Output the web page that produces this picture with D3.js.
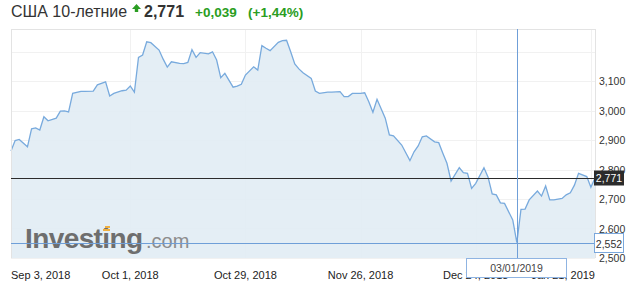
<!DOCTYPE html>
<html>
<head>
<meta charset="utf-8">
<script src="https://cdn.jsdelivr.net/npm/d3@7"></script>
<style>
  html, body { margin: 0; padding: 0; background: #fff; }
  svg { display: block; font-family: "Liberation Sans", Arial, sans-serif; }
</style>
</head>
<body>
<svg id="chart" width="629" height="288"></svg>
<script>
// ---- data ----
const dates = [
  "2018-09-02","2018-09-03","2018-09-04","2018-09-06","2018-09-07","2018-09-08","2018-09-09","2018-09-10",
  "2018-09-11","2018-09-13","2018-09-14","2018-09-15","2018-09-16","2018-09-17","2018-09-19","2018-09-20",
  "2018-09-22","2018-09-23","2018-09-25","2018-09-26","2018-09-27","2018-09-29","2018-09-30","2018-10-01",
  "2018-10-02","2018-10-03","2018-10-04","2018-10-05","2018-10-06","2018-10-08","2018-10-09","2018-10-10",
  "2018-10-11","2018-10-13","2018-10-14","2018-10-15","2018-10-16","2018-10-17","2018-10-18","2018-10-20",
  "2018-10-21","2018-10-22","2018-10-23","2018-10-24","2018-10-26","2018-10-27","2018-10-28","2018-10-29",
  "2018-10-31","2018-11-01","2018-11-02","2018-11-03","2018-11-04","2018-11-06","2018-11-07","2018-11-08",
  "2018-11-09","2018-11-10","2018-11-11","2018-11-12","2018-11-14","2018-11-15","2018-11-16","2018-11-18",
  "2018-11-19","2018-11-21","2018-11-22","2018-11-23","2018-11-24","2018-11-26","2018-11-27","2018-11-28",
  "2018-11-29","2018-11-30","2018-12-02","2018-12-03","2018-12-04","2018-12-06","2018-12-08","2018-12-09",
  "2018-12-10","2018-12-11","2018-12-12","2018-12-14","2018-12-15","2018-12-16","2018-12-17","2018-12-18",
  "2018-12-20","2018-12-21","2018-12-22","2018-12-23","2018-12-24","2018-12-26","2018-12-27","2018-12-28",
  "2018-12-29","2018-12-30","2018-12-31","2019-01-02","2019-01-03","2019-01-04","2019-01-05","2019-01-06",
  "2019-01-08","2019-01-09","2019-01-10","2019-01-11","2019-01-12","2019-01-14","2019-01-15","2019-01-16",
  "2019-01-17","2019-01-18","2019-01-20","2019-01-21","2019-01-22"
];
const values = [
  2.863,2.898,2.902,2.877,2.938,2.941,2.934,2.979,
  2.965,2.974,2.998,2.999,2.995,3.058,3.065,3.065,
  3.066,3.087,3.097,3.049,3.058,3.067,3.069,3.083,
  3.062,3.180,3.188,3.233,3.230,3.205,3.174,3.147,
  3.165,3.160,3.159,3.163,3.206,3.180,3.196,3.192,
  3.199,3.171,3.111,3.126,3.079,3.083,3.089,3.120,
  3.148,3.137,3.220,3.211,3.203,3.231,3.237,3.238,
  3.199,3.158,3.141,3.128,3.109,3.066,3.058,3.062,
  3.062,3.064,3.047,3.047,3.058,3.058,3.060,3.030,
  2.994,3.038,2.974,2.917,2.914,2.883,2.830,2.860,
  2.880,2.911,2.914,2.894,2.891,2.855,2.821,2.761,
  2.806,2.789,2.787,2.736,2.753,2.806,2.774,2.717,
  2.714,2.687,2.685,2.629,2.552,2.665,2.666,2.697,
  2.727,2.710,2.744,2.697,2.697,2.702,2.714,2.721,
  2.747,2.787,2.776,2.740,2.771
];
const yTickValues = [2.5, 2.6, 2.7, 2.8, 2.9, 3.0, 3.1];
const yGridValues = [2.5, 2.6, 2.7, 2.8, 2.9, 3.0, 3.1, 3.2];
const xTickDates = ["2018-09-03","2018-10-01","2018-10-29","2018-11-26","2018-12-24","2019-01-21"];
const titleText = "США 10-летние";
const lastPrice = 2.771;
const changeText = "+0,039";
const changePctText = "(+1,44%)";
const crossDate = "2019-01-03";
const crossValue = 2.552;

// ---- setup ----
const parse = d3.timeParse("%Y-%m-%d");
const data = dates.map((d, i) => ({ date: parse(d), value: values[i] }));
const fmtNum = v => d3.format(",.3f")(v).replace(".", "#").replace(",", ".").replace("#", ",");
const fmtDate = d3.timeFormat("%b %-d, %Y");
const fmtTip = d3.timeFormat("%d/%m/%Y");

const L = 11, R = 595, T = 29, B = 258;
const x = d3.scaleTime()
  .domain([parse("2018-09-02"), parse("2019-01-22")])
  .range([L, R]);
const y = d3.scaleLinear().domain([2.5, 3.2]).range([258, 51.5]);

const svg = d3.select("#chart");

// title
const title = svg.append("g");
title.append("text").attr("x", 11).attr("y", 17).attr("font-size", 16).attr("fill", "#333").text(titleText);
title.append("path").attr("d", "M132,9 L136.5,4 L141,9 L138.2,9 L138.2,12 L134.8,12 L134.8,9 Z").attr("fill", "#2a9d22");
title.append("text").attr("x", 144).attr("y", 17).attr("font-size", 16).attr("font-weight", "bold").attr("fill", "#333").text(fmtNum(lastPrice));
title.append("text").attr("x", 195).attr("y", 17).attr("font-size", 13.5).attr("font-weight", "bold").attr("fill", "#2a9d22").text(changeText);
title.append("text").attr("x", 248).attr("y", 17).attr("font-size", 13.5).attr("font-weight", "bold").attr("fill", "#2a9d22").text(changePctText);

// grid
const grid = svg.append("g");
grid.selectAll("line.h").data(yGridValues).join("line")
  .attr("x1", L).attr("x2", R).attr("y1", d => Math.round(y(d)) + 0.5).attr("y2", d => Math.round(y(d)) + 0.5)
  .attr("stroke", "#f1f1f1");
grid.selectAll("line.v").data(xTickDates.slice(1)).join("line")
  .attr("x1", d => Math.round(x(parse(d))) + 0.5).attr("x2", d => Math.round(x(parse(d))) + 0.5)
  .attr("y1", T).attr("y2", B).attr("stroke", "#f1f1f1");

// area + line
const area = d3.area().x(d => x(d.date)).y0(y(2.5)).y1(d => y(d.value));
const line = d3.line().x(d => x(d.date)).y(d => y(d.value));
svg.append("path").datum(data).attr("d", area).attr("fill", "#e2edf4").attr("fill-opacity", 0.92);
svg.append("path").datum(data).attr("d", line).attr("fill", "none").attr("stroke", "#78aadd").attr("stroke-width", 1.3);

// borders
svg.append("line").attr("x1", L).attr("x2", R).attr("y1", T + 0.5).attr("y2", T + 0.5).attr("stroke", "#e3e3e3");
svg.append("line").attr("x1", L + 0.5).attr("x2", L + 0.5).attr("y1", T).attr("y2", B).attr("stroke", "#e3e3e3");
svg.append("line").attr("x1", R + 0.5).attr("x2", R + 0.5).attr("y1", T).attr("y2", B).attr("stroke", "#e3e3e3");

// watermark
const wm = svg.append("g");
wm.append("text").attr("x", 25).attr("y", 248).attr("font-size", 28).attr("font-weight", "bold")
  .attr("letter-spacing", -0.6).attr("fill", "#6e6e6e").text("Investing");
wm.append("text").attr("x", 146).attr("y", 248).attr("font-size", 20).attr("fill", "#8c8c8c").text(".com");
wm.append("rect").attr("x", 105).attr("y", 226).attr("width", 5).attr("height", 2).attr("fill", "#f0b040");
wm.append("rect").attr("x", 103).attr("y", 229).attr("width", 7).attr("height", 2).attr("fill", "#f0b040");

// last price line
const yl = Math.round(y(lastPrice)) + 0.5;
svg.append("line").attr("x1", L).attr("x2", R).attr("y1", yl).attr("y2", yl).attr("stroke", "#2b2b2b");

// crosshair
const cx = Math.round(x(parse(crossDate))) + 0.5;
const cy = Math.round(y(crossValue)) + 0.5;
svg.append("line").attr("x1", L).attr("x2", R).attr("y1", cy).attr("y2", cy).attr("stroke", "#6f9fd8");
svg.append("line").attr("x1", cx).attr("x2", cx).attr("y1", T).attr("y2", B).attr("stroke", "#6f9fd8");

// y labels
svg.append("g").selectAll("text").data(yTickValues).join("text")
  .attr("x", 599).attr("y", d => y(d) + 4).attr("font-size", 10.5).attr("fill", "#333")
  .text(d => fmtNum(d));

// last price box
svg.append("rect").attr("x", 594).attr("y", yl - 8).attr("width", 30).attr("height", 15).attr("fill", "#2b2b2b");
svg.append("text").attr("x", 609).attr("y", yl + 3.5).attr("text-anchor", "middle").attr("font-size", 10.5)
  .attr("fill", "#fff").text(fmtNum(lastPrice));

// crosshair value box
svg.append("rect").attr("x", 594.5).attr("y", cy - 10).attr("width", 29).attr("height", 19)
  .attr("fill", "#fff").attr("stroke", "#7aa7dc");
svg.append("text").attr("x", 609).attr("y", cy + 4).attr("text-anchor", "middle").attr("font-size", 10.5)
  .attr("fill", "#333").text(fmtNum(crossValue));

// x labels
svg.append("g").selectAll("text").data(xTickDates).join("text")
  .attr("x", (d, i) => i === 0 ? L : i === xTickDates.length - 1 ? R : x(parse(d)))
  .attr("y", 279)
  .attr("text-anchor", (d, i) => i === 0 ? "start" : i === xTickDates.length - 1 ? "end" : "middle")
  .attr("font-size", 11).attr("fill", "#222")
  .text(d => fmtDate(parse(d)));

// crosshair date box
svg.append("line").attr("x1", cx).attr("x2", cx).attr("y1", B).attr("y2", 259).attr("stroke", "#6f9fd8");
svg.append("rect").attr("x", 466.5).attr("y", 258.5).attr("width", 100).attr("height", 19)
  .attr("fill", "#fff").attr("stroke", "#8fb4e2");
svg.append("text").attr("x", 516.5).attr("y", 272).attr("text-anchor", "middle").attr("font-size", 10.5)
  .attr("fill", "#444").text(fmtTip(parse(crossDate)));
</script>
</body>
</html>
